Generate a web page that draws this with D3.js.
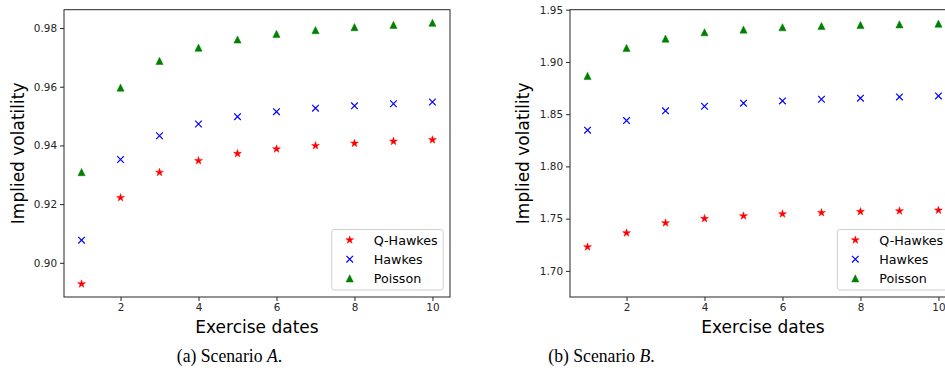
<!DOCTYPE html>
<html>
<head>
<meta charset="utf-8">
<script src="https://cdn.jsdelivr.net/npm/d3@7"></script>
<style>
  body { margin: 0; background: #fff; }
  svg { display: block; }
</style>
</head>
<body>
<div id="chart"></div>
<script>
// data
const exerciseDates = [1, 2, 3, 4, 5, 6, 7, 8, 9, 10];

const qHawkesA = [0.8928, 0.9222, 0.9308, 0.9348, 0.9372, 0.9388, 0.9399, 0.9407, 0.9414, 0.9419];
const hawkesA  = [0.9077, 0.9352, 0.9433, 0.9473, 0.9498, 0.9515, 0.9527, 0.9535, 0.9542, 0.9548];
const poissonA = [0.9309, 0.9597, 0.9688, 0.9733, 0.9761, 0.9780, 0.9793, 0.9803, 0.9811, 0.9818];

const qHawkesB = [1.7229, 1.7363, 1.7459, 1.7500, 1.7526, 1.7545, 1.7557, 1.7567, 1.7574, 1.7580];
const hawkesB  = [1.8347, 1.8439, 1.8532, 1.8576, 1.8605, 1.8627, 1.8643, 1.8653, 1.8665, 1.8675];
const poissonB = [1.8866, 1.9134, 1.9223, 1.9284, 1.9310, 1.9332, 1.9344, 1.9354, 1.9360, 1.9366];

const seriesNames = ['Q-Hawkes', 'Hawkes', 'Poisson'];
const xTicks = [2, 4, 6, 8, 10];
const yTicksA = [0.90, 0.92, 0.94, 0.96, 0.98];
const yTicksB = [1.70, 1.75, 1.80, 1.85, 1.90, 1.95];
const captionA = ['(a) Scenario ', 'A', '.'];
const captionB = ['(b) Scenario ', 'B', '.'];

const width = 945;
const height = 381;
const sans = 'DejaVu Sans';
const axisColor = '#262626';

const svg = d3.select('#chart')
  .append('svg')
  .attr('width', width)
  .attr('height', height);

// marker shapes, matplotlib style
const triangleUp = {
  draw(ctx, size) {
    const h = Math.sqrt(size);
    ctx.moveTo(0, -h / 2);
    ctx.lineTo(h / 2, h / 2);
    ctx.lineTo(-h / 2, h / 2);
    ctx.closePath();
  }
};
const cross = {
  draw(ctx, size) {
    const r = Math.sqrt(size) / 2;
    ctx.moveTo(-r, -r);
    ctx.lineTo(r, r);
    ctx.moveTo(r, -r);
    ctx.lineTo(-r, r);
  }
};

const markers = [
  { type: d3.symbolStar, size: 19, fill: '#ff0000', stroke: '#ff0000', sw: 0.5 },
  { type: cross, size: 44, fill: 'none', stroke: '#0000ff', sw: 1.2 },
  { type: triangleUp, size: 52, fill: '#008000', stroke: '#008000', sw: 0.5 }
];

function drawMarker(g, i, x, y) {
  const m = markers[i];
  g.append('path')
    .attr('d', d3.symbol().type(m.type).size(m.size)())
    .attr('transform', `translate(${x},${y})`)
    .attr('fill', m.fill)
    .attr('stroke', m.stroke)
    .attr('stroke-width', m.sw);
}

function drawPanel(p) {
  const xScale = d3.scaleLinear().domain([0.55, 10.45]).range([p.left, p.right]);
  const yScale = d3.scaleLinear().domain(p.yDomain).range([p.bottom, p.top]);

  const g = svg.append('g');

  // axes
  const xAxis = d3.axisBottom(xScale).tickValues(xTicks).tickSize(4).tickPadding(3)
    .tickFormat(d3.format('d'));
  const yAxis = d3.axisLeft(yScale).tickValues(p.yTicks).tickSize(4).tickPadding(3)
    .tickFormat(d3.format('.2f'));

  const xg = g.append('g')
    .attr('transform', `translate(0,${p.bottom})`)
    .call(xAxis);
  const yg = g.append('g')
    .attr('transform', `translate(${p.left},0)`)
    .call(yAxis);

  [xg, yg].forEach(ag => {
    ag.select('.domain').remove();
    ag.selectAll('line').attr('stroke', axisColor).attr('stroke-width', 1);
    ag.selectAll('text')
      .attr('fill', axisColor)
      .style('font-family', sans)
      .style('font-size', '10.4px');
  });

  // frame
  g.append('rect')
    .attr('x', p.left)
    .attr('y', p.top)
    .attr('width', p.right - p.left)
    .attr('height', p.bottom - p.top)
    .attr('fill', 'none')
    .attr('stroke', axisColor)
    .attr('stroke-width', 1);

  // points
  p.series.forEach((vals, i) => {
    vals.forEach((v, j) => drawMarker(g, i, xScale(exerciseDates[j]), yScale(v)));
  });

  // axis labels
  g.append('text')
    .attr('x', (p.left + p.right) / 2)
    .attr('y', 333)
    .attr('text-anchor', 'middle')
    .style('font-family', sans)
    .style('font-size', '17px')
    .attr('fill', '#000')
    .text('Exercise dates');

  g.append('text')
    .attr('transform', `translate(${p.yLabelX},${(p.top + p.bottom) / 2}) rotate(-90)`)
    .attr('text-anchor', 'middle')
    .style('font-family', sans)
    .style('font-size', '17px')
    .attr('fill', '#000')
    .text('Implied volatility');

  // legend
  const lg = g.append('g');
  lg.append('rect')
    .attr('x', p.legendX)
    .attr('y', 229.5)
    .attr('width', 111.5)
    .attr('height', 60.5)
    .attr('rx', 2.5)
    .attr('fill', '#fff')
    .attr('fill-opacity', 0.8)
    .attr('stroke', '#d0d0d0')
    .attr('stroke-width', 1);

  seriesNames.forEach((name, i) => {
    const cy = 240 + i * 19.2;
    drawMarker(lg, i, p.legendX + 18, cy);
    lg.append('text')
      .attr('x', p.legendX + 42)
      .attr('y', cy + 4.6)
      .style('font-family', sans)
      .style('font-size', '12.7px')
      .attr('fill', '#000')
      .text(name);
  });

  // caption
  const cap = svg.append('text')
    .attr('transform', `translate(${p.captionX},362) scale(0.93,1)`)
    .attr('text-anchor', 'middle')
    .style('font-family', 'Liberation Serif')
    .style('font-size', '19px')
    .attr('fill', '#000');
  cap.append('tspan').text(p.caption[0]);
  cap.append('tspan').style('font-style', 'italic').text(p.caption[1]);
  cap.append('tspan').text(p.caption[2]);
}

drawPanel({
  left: 64, right: 450, top: 9.7, bottom: 297,
  yDomain: [0.88835, 0.98625],
  yTicks: yTicksA,
  series: [qHawkesA, hawkesA, poissonA],
  yLabelX: 24,
  legendX: 331.7,
  caption: captionA,
  captionX: 229.5
});

drawPanel({
  left: 570, right: 956, top: 9.7, bottom: 297,
  yDomain: [1.675, 1.95],
  yTicks: yTicksB,
  series: [qHawkesB, hawkesB, poissonB],
  yLabelX: 529,
  legendX: 837.3,
  caption: captionB,
  captionX: 601.5
});
</script>
</body>
</html>
